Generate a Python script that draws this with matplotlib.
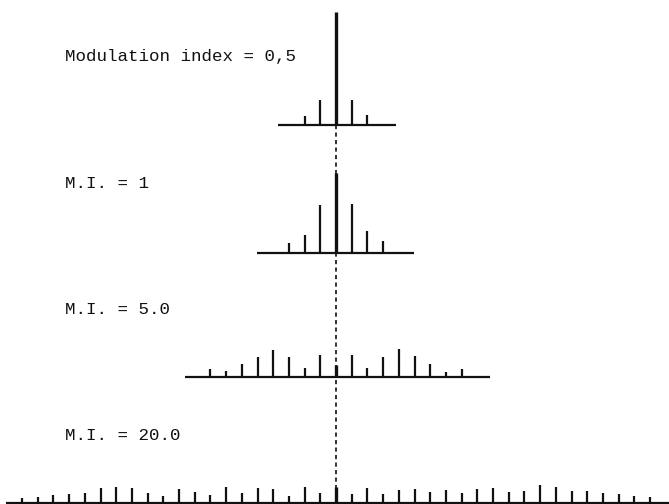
import matplotlib
matplotlib.use("Agg")
import numpy as np
import matplotlib.pyplot as plt

# =========================
# data: sideband amplitudes (arbitrary units)
# =========================
labels = ["Modulation index = 0,5", "M.I. = 1", "M.I. = 5.0", "M.I. = 20.0"]

orders_05 = np.arange(-2, 3)
amps_05 = [9, 25, 113, 25, 10]

orders_1 = np.arange(-3, 4)
amps_1 = [10, 18, 48, 80, 49, 22, 12]

orders_5 = np.arange(-8, 9)
amps_5 = [8, 6.7, 13, 20.7, 27, 20, 9, 22, 12, 22, 9, 20, 28, 21, 13, 5.7, 8]

orders_20 = np.arange(-20, 21)
amps_20 = [4.7, 5.3, 7.3, 8.7, 9.3, 14.3, 15.3, 14.7, 10, 7, 13.3, 11, 8, 16,
           9.3, 14.3, 13.3, 7, 15.3, 9.3, 16, 8.7, 14.3, 8.7, 12.7, 13.3, 11,
           12.7, 9.3, 13.3, 15, 11, 12, 17.3, 16, 12, 12, 9.3, 8.3, 6.7, 6]

# =========================
# layout (pixels of the 669x504 page)
# =========================
W, H = 669, 504
CENTER_PX = 336
STEP_PX = 15.7

panels = [
    # orders, amps, baseline y, baseline extent (in orders), label y
    (orders_05, amps_05, 125.3, (-3.7, 3.8), 56),
    (orders_1, amps_1, 252.7, (-5.05, 4.95), 183),
    (orders_5, amps_5, 377.3, (-9.6, 9.8), 310),
    (orders_20, amps_20, 502.6, (-21.0, 21.2), 436),
]

fig = plt.figure(figsize=(W / 100, H / 100), dpi=100)
ax = fig.add_axes([0, 0, 1, 1])
ax.set_xlim(-CENTER_PX / STEP_PX, (W - CENTER_PX) / STEP_PX)
ax.set_ylim(H, 0)
ax.axis("off")

ink = "#111111"

# dashed line linking the carriers
ax.vlines(0, panels[0][2], panels[3][2], colors=ink, linewidth=1.2,
          linestyles=(0, (2.5, 2)))

for (orders, amps, base, (x0, x1), ly), label in zip(panels, labels):
    amps = np.asarray(amps)
    ax.hlines(base, x0, x1, colors=ink, linewidth=1.6)
    side = orders != 0
    ax.vlines(orders[side], base, base - amps[side], colors=ink, linewidth=1.6)
    ax.vlines(orders[~side], base, base - amps[~side], colors=ink, linewidth=2.4)
    ax.text(-CENTER_PX / STEP_PX + 65 / STEP_PX, ly, label,
            family="Liberation Mono", fontsize=12.6, color=ink,
            va="center", ha="left")

fig.savefig("out.png", dpi=100, facecolor="white")
